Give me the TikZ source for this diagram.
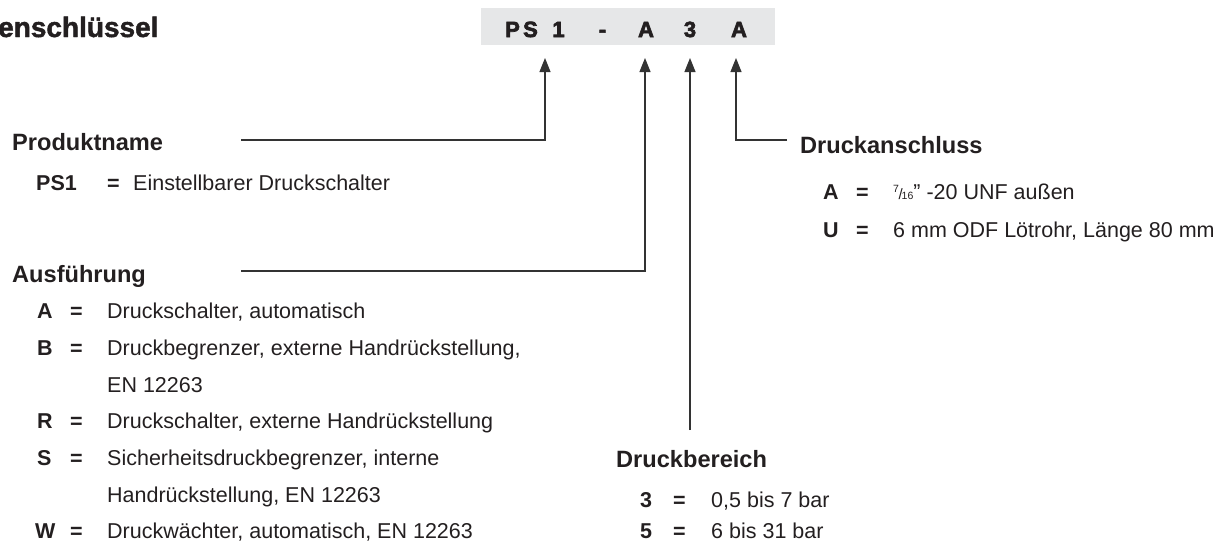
\documentclass[tikz,border=0pt]{standalone}
\usepackage{fontspec}
\setmainfont{Liberation Sans}
\newfontfamily\heavyfont[BoldFeatures={FakeBold=1.6}]{Liberation Sans}
\newfontfamily\blackfont[BoldFeatures={FakeBold=3}]{Liberation Sans}
\usetikzlibrary{arrows.meta}
\definecolor{ink}{HTML}{231F20}
\definecolor{linec}{HTML}{333333}
\definecolor{boxgray}{HTML}{E6E7E8}
\begin{document}
\begin{tikzpicture}[x=1pt,y=-1pt,
  txt/.style={anchor=base west,inner sep=0pt,text=ink,font=\fontsize{21.5}{24}\selectfont},
  keyb/.style={anchor=base west,inner sep=0pt,text=ink,font=\fontsize{21.5}{24}\selectfont\bfseries},
  eqs/.style={anchor=base west,inner sep=0pt,text=ink,font=\fontsize{21.5}{24}\selectfont\bfseries},
  head/.style={anchor=base west,inner sep=0pt,text=ink,font=\fontsize{23.6}{26}\selectfont\bfseries},
  codeletter/.style={anchor=base,inner sep=0pt,text=ink,font=\fontsize{22}{24}\selectfont\blackfont\bfseries},
  conn/.style={draw=linec,line width=1.1pt},
  arr/.style={conn,-{Triangle[length=14pt,width=11pt]}}]
\useasboundingbox (0,0) rectangle (1224,544);
% title
\node[anchor=base west,inner sep=0pt,text=ink,font=\fontsize{28}{30}\selectfont\heavyfont\bfseries] (title) at (-2,37) {enschlüssel};
% code box
\node[fill=boxgray,minimum width=294pt,minimum height=37pt,inner sep=0pt,anchor=north west] (codebox) at (481,8) {};
\node[codeletter] (cP) at (512.5,37) {P};
\node[codeletter] (cS) at (530.5,37) {S};
\node[codeletter] (c1) at (558.5,37) {1};
\node[codeletter] (cdash) at (602.5,37) {-};
\node[codeletter] (cA) at (646,37) {A};
\node[codeletter] (c3) at (690,37) {3};
\node[codeletter] (cA2) at (739,37) {A};
% arrow tips
\coordinate (tipP) at (545,58);
\coordinate (tipA) at (645,58);
\coordinate (tip3) at (690,58);
\coordinate (tipC) at (736,58);
% Produktname
\node[head] (hprod) at (12,150) {Produktname};
\coordinate (lprod) at (241,140);
\node[keyb] (kps1) at (36,190) {PS1};
\node[eqs] (eps1) at (107,190) {=};
\node[txt] (tps1) at (133,190) {Einstellbarer Druckschalter};
% Ausfuehrung
\node[head] (hausf) at (12,282) {Ausführung};
\coordinate (lausf) at (241,271);
\node[keyb] (kA) at (37,318) {A};
\node[eqs] (eA) at (70,318) {=};
\node[txt] (tA) at (107,318) {Druckschalter, automatisch};
\node[keyb] (kB) at (37,355) {B};
\node[eqs] (eB) at (70,355) {=};
\node[txt] (tB) at (107,355) {Druckbegrenzer, externe Handrückstellung,};
\node[txt] (tB2) at (107,392) {EN 12263};
\node[keyb] (kR) at (37,428) {R};
\node[eqs] (eR) at (70,428) {=};
\node[txt] (tR) at (107,428) {Druckschalter, externe Handrückstellung};
\node[keyb] (kS) at (37,465) {S};
\node[eqs] (eS) at (70,465) {=};
\node[txt] (tS) at (107,465) {Sicherheitsdruckbegrenzer, interne};
\node[txt] (tS2) at (107,502) {Handrückstellung, EN 12263};
\node[keyb] (kW) at (35,538) {W};
\node[eqs] (eW) at (70,538) {=};
\node[txt] (tW) at (107,538) {Druckwächter, automatisch, EN 12263};
% Druckbereich
\node[head] (hdb) at (616,467) {Druckbereich};
\coordinate (ldb) at (690,430);
\node[keyb] (k3) at (640,507) {3};
\node[eqs] (e3) at (673,507) {=};
\node[txt] (t3) at (711,507) {0,5 bis 7 bar};
\node[keyb] (k5) at (640,538) {5};
\node[eqs] (e5) at (673,538) {=};
\node[txt] (t5) at (711,538) {6 bis 31 bar};
% Druckanschluss
\node[head] (hda) at (800,153) {Druckanschluss};
\coordinate (lda) at (787,140);
\node[keyb] (kDA) at (823,199) {A};
\node[eqs] (eDA) at (856,199) {=};
\node[txt] (tDA) at (893,199) {\raisebox{7pt}{\fontsize{10.5}{10}\selectfont 7}\kern-0.5pt{\fontsize{15}{15}\selectfont/}\kern-1pt{\fontsize{10.5}{10}\selectfont 16}\symbol{34} -20 UNF außen};
\node[keyb] (kDU) at (823,237) {U};
\node[eqs] (eDU) at (856,237) {=};
\node[txt] (tDU) at (893,237) {6 mm ODF Lötrohr, Länge 80 mm};
% connectors
\draw[arr] (lprod) -| (tipP);
\draw[arr] (lausf) -| (tipA);
\draw[arr] (ldb) -- (tip3);
\draw[arr] (lda) -| (tipC);
\end{tikzpicture}
\end{document}
